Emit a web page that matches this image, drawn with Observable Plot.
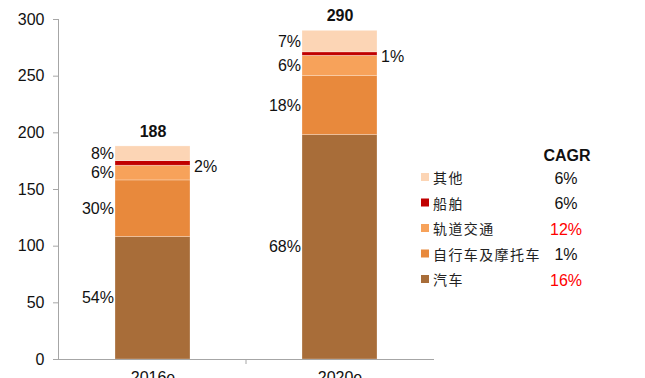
<!DOCTYPE html>
<html>
<head>
<meta charset="utf-8">
<script src="https://cdn.jsdelivr.net/npm/d3@7"></script>
<script src="https://cdn.jsdelivr.net/npm/@observablehq/plot@0.6"></script>
<style>
  html, body { margin: 0; padding: 0; background: #fff; }
</style>
</head>
<body>
<div id="chart"></div>
<script>
const years = ["2016e", "2020e"];
const series = ["汽车", "自行车及摩托车", "轨道交通", "船舶", "其他"];
const values2016 = [108, 50, 13, 4, 13];
const values2020 = [198, 52, 18, 3, 19];
const pct2016 = ["54%", "30%", "6%", "2%", "8%"];
const pct2020 = ["68%", "18%", "6%", "1%", "7%"];
const totals = [188, 290];
const cagr = ["16%", "1%", "12%", "6%", "6%"];
const yTicks = [0, 50, 100, 150, 200, 250, 300];

const colors = ["#A86D39", "#E8893C", "#F7A25A", "#C00000", "#FCD5B5"];
const valuesByYear = [values2016, values2020];
const pctByYear = [pct2016, pct2020];

const data = years.flatMap((yr, i) =>
  series.map((s, j) => ({ year: yr, series: s, value: valuesByYear[i][j], pct: pctByYear[i][j] }))
);

const stackOpts = (extra) => Plot.stackY({ x: "year", y: "value", z: "series", ...extra });

const plot = Plot.plot({
  width: 645,
  height: 378,
  marginLeft: 58,
  marginRight: 212,
  marginTop: 19,
  marginBottom: 19,
  style: { fontFamily: "'Liberation Sans', Arial, sans-serif", fontSize: "16px", color: "#111", background: "#fff" },
  x: { domain: years, paddingInner: 0.6, paddingOuter: 0.3, label: null },
  y: { domain: [0, 300], ticks: yTicks, label: null },
  color: { domain: series, range: colors },
  marks: [
    Plot.barY(data, { x: "year", y: "value", z: "series", fill: "series", stroke: "#fff", strokeOpacity: 0.45, strokeWidth: 0.6 }),
    Plot.frame({ anchor: "left", stroke: "#a6a6a6" }),
    Plot.frame({ anchor: "bottom", stroke: "#a6a6a6" }),
    Plot.axisY({ ticks: yTicks, tickSize: 5, tickPadding: 9, stroke: "#a6a6a6", fontSize: 16, color: "#111" }),
    Plot.axisX({ tickSize: 0, tickPadding: 12, fontSize: 16 }),
    Plot.text(data, stackOpts({ text: d => d.series === "船舶" ? "" : d.pct, textAnchor: "end", dx: -39, fontSize: 16, fill: "#111" })),
    Plot.text(data, stackOpts({ text: d => d.series === "船舶" ? d.pct : "", textAnchor: "start", dx: 41, dy: 3, fontSize: 16, fill: "#111" })),
    Plot.text(years, { x: d => d, y: (d, i) => totals[i], text: (d, i) => String(totals[i]), dy: -15, fontWeight: "bold", fontSize: 16, fill: "#111" })
  ]
});

// boundary tick between categories
const xs = plot.scale("x");
const ys = plot.scale("y");
const svg = d3.select(plot);
const y0 = ys.apply(0);
years.slice(1).forEach(yr => {
  const bx = xs.apply(yr) - (xs.step - xs.bandwidth) / 2;
  svg.append("line").attr("x1", bx).attr("x2", bx).attr("y1", y0).attr("y2", y0 + 5)
    .attr("stroke", "#a6a6a6");
});

// legend with CAGR column
const color = plot.scale("color");
const lg = svg.append("g").attr("text-anchor", "start");
const legendX = 421, legendY0 = 177, rowH = 25.5, cagrX = 566;
lg.append("text").attr("x", cagrX + 1).attr("y", 155).attr("text-anchor", "middle")
  .attr("dominant-baseline", "central").attr("font-weight", "bold").attr("font-size", 16)
  .attr("font-family", "'Liberation Sans', Arial, sans-serif").attr("fill", "#111").text("CAGR");
const order = series.map((s, i) => i).reverse();
order.forEach((idx, r) => {
  const cy = legendY0 + r * rowH;
  lg.append("rect").attr("x", legendX).attr("y", cy - 4).attr("width", 8).attr("height", 8)
    .attr("fill", color.apply(series[idx]));
  lg.append("text").attr("x", legendX + 12).attr("y", cy).attr("text-anchor", "start").attr("dominant-baseline", "central")
    .attr("font-family", "'Noto Sans CJK SC', sans-serif").attr("font-size", 14).attr("letter-spacing", 1.4)
    .attr("fill", "#222").text(series[idx]);
  const v = cagr[idx];
  lg.append("text").attr("x", cagrX).attr("y", cy + 1).attr("text-anchor", "middle").attr("dominant-baseline", "central")
    .attr("font-family", "'Liberation Sans', Arial, sans-serif").attr("font-size", 16)
    .attr("fill", parseFloat(v) >= 10 ? "#FF0000" : "#111").text(v);
});

document.getElementById("chart").appendChild(plot);
</script>
</body>
</html>
